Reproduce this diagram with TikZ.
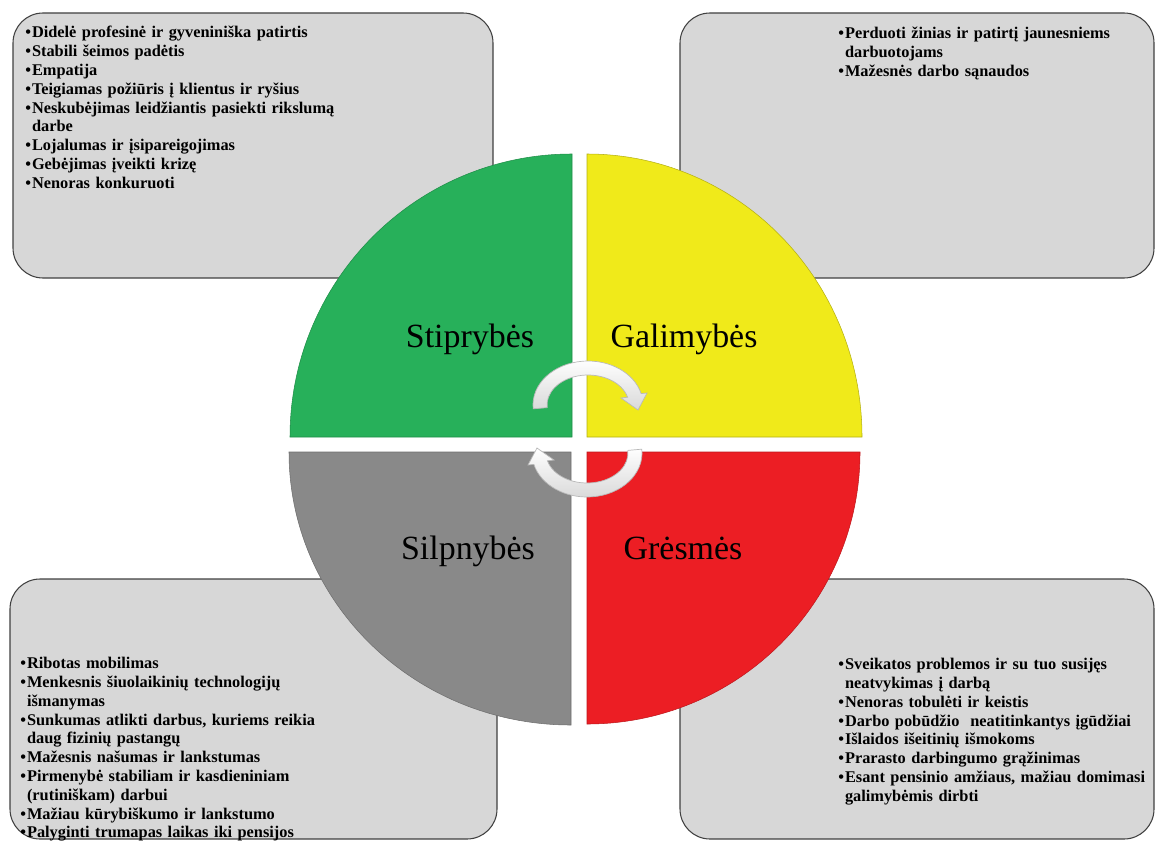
\documentclass[tikz,border=0pt]{standalone}
\usepackage{fontspec}
\setmainfont{Liberation Serif}
\definecolor{boxgray}{RGB}{215,215,215}
\definecolor{swotgreen}{RGB}{39,176,90}
\definecolor{swotyellow}{RGB}{240,234,26}
\definecolor{swotgray}{RGB}{137,137,137}
\definecolor{swotred}{RGB}{236,30,36}

\begin{document}
\def\bw{3.8pt}
\def\itm#1{\noindent\hangindent=\bw\hangafter=1\makebox[\bw][l]{\textbullet}#1\par}
\def\turnpath{([shift={(175:55 and 44)}]588,405) arc[start angle=175, end angle=345, x radius=55, y radius=44]
  -- (647,393) -- (638,410) -- (621,398)
  -- ([shift={(345:41 and 30)}]588,405) arc[start angle=345, end angle=175, x radius=41, y radius=30] -- cycle}

\begin{tikzpicture}[x=0.02cm, y=-0.02cm,
    box/.style={draw=black!75, line width=0.6pt, fill=boxgray, rounded corners=0.6cm},
    list/.style={anchor=north west, inner sep=0pt, text width=6.8cm, font=\fontsize{9.3}{10.7}\selectfont\bfseries},
    quarter/.style={line width=0.3pt},
    title/.style={anchor=base, inner sep=0pt, font=\fontsize{19.3}{23}\selectfont},
    turn/.style={draw=gray!55, line width=0.4pt, top color=white, bottom color=gray!30}]
      \useasboundingbox (0,0) rectangle (1155,841);
      \draw[box] (13,13) rectangle (493,278);
      \draw[box] (680,13) rectangle (1154,278);
      \draw[box] (10,579) rectangle (497,839);
      \draw[box] (680,579) rectangle (1154,839);
      \node[list] (str) at (25,26) {\itm{Didelė profesinė ir gyveniniška patirtis}
        \itm{Stabili šeimos padėtis}
        \itm{Empatija}
        \itm{Teigiamas požiūris į klientus ir ryšius}
        \itm{Neskubėjimas leidžiantis pasiekti rikslumą\newline darbe}
        \itm{Lojalumas ir įsipareigojimas}
        \itm{Gebėjimas įveikti krizę}
        \itm{Nenoras konkuruoti}};
      \node[list] (opp) at (838,27) {\itm{Perduoti žinias ir patirtį jaunesniems\newline darbuotojams}
        \itm{Mažesnės darbo sąnaudos}};
      \node[list] (wea) at (20,657) {\itm{Ribotas mobilimas}
        \itm{Menkesnis šiuolaikinių technologijų\newline išmanymas}
        \itm{Sunkumas atlikti darbus, kuriems reikia\newline daug fizinių pastangų}
        \itm{Mažesnis našumas ir lankstumas}
        \itm{Pirmenybė stabiliam ir kasdieniniam\newline (rutiniškam) darbui}
        \itm{Mažiau kūrybiškumo ir lankstumo}
        \itm{Palyginti trumapas laikas iki pensijos}};
      \node[list] (thr) at (838,658) {\itm{Sveikatos problemos ir su tuo susijęs\newline neatvykimas į darbą}
        \itm{Nenoras tobulėti ir keistis}
        \itm{Darbo pobūdžio\ \ neatitinkantys įgūdžiai}
        \itm{Išlaidos išeitinių išmokoms}
        \itm{Prarasto darbingumo grąžinimas}
        \itm{Esant pensinio amžiaus, mažiau domimasi\newline galimybėmis dirbti}};
      \filldraw[quarter, fill=swotgreen, draw=swotgreen!80!black] (572,437) -- (290,437) arc[start angle=180, end angle=270, x radius=282, y radius=283] -- cycle;
      \filldraw[quarter, fill=swotyellow, draw=swotyellow!75!black] (587,437) -- (587,154) arc[start angle=270, end angle=360, x radius=275, y radius=283] -- cycle;
      \filldraw[quarter, fill=swotgray, draw=swotgray!80!black] (571,452) -- (289,452) arc[start angle=180, end angle=90, x radius=282, y radius=273] -- cycle;
      \filldraw[quarter, fill=swotred, draw=swotred!80!black] (587,452) -- (587,724) arc[start angle=90, end angle=0, x radius=273, y radius=272] -- cycle;
      \node[title] (s) at (470,347) {Stiprybės};
      \node[title] (o) at (684,347) {Galimybės};
      \node[title] (w) at (468,559) {Silpnybės};
      \node[title] (t) at (683,559) {Grėsmės};
      \shade[turn] \turnpath;
      \shade[turn, rotate around={180:(587.5,429)}] \turnpath;
    \end{tikzpicture}
\end{document}
